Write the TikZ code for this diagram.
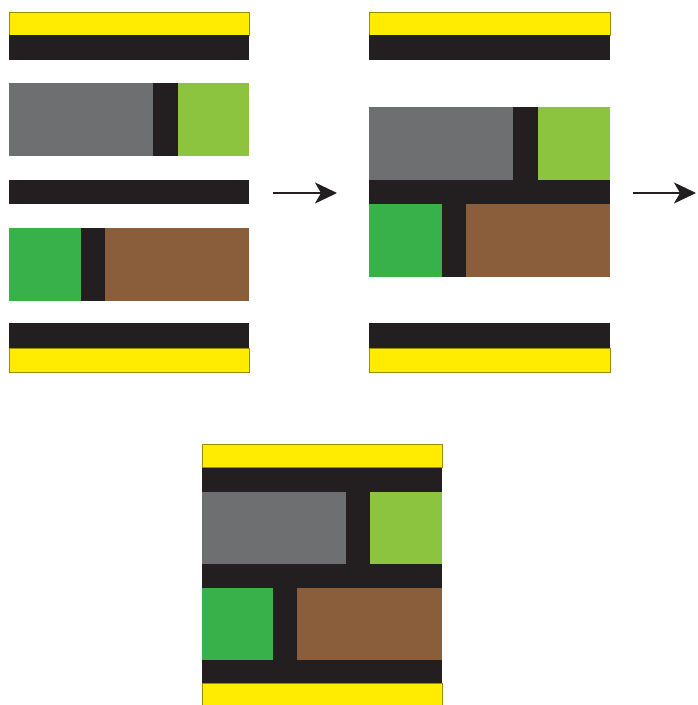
\documentclass[tikz,border=0pt]{standalone}
\usepackage{xcolor}
\usetikzlibrary{arrows.meta}
\definecolor{lyyellow}{HTML}{FFEC00}
\definecolor{lyblack}{HTML}{231F20}
\definecolor{lygray}{HTML}{6D6F71}
\definecolor{lylime}{HTML}{8CC43F}
\definecolor{lygreen}{HTML}{39B14A}
\definecolor{lybrown}{HTML}{8A5D3B}

\begin{document}
\begin{tikzpicture}[
            x=1pt, y=-1pt,
            yel/.style={fill=lyyellow, draw=lyyellow!60!black, line width=0.4pt},
            blk/.style={fill=lyblack},
            gry/.style={fill=lygray},
            lim/.style={fill=lylime},
            grn/.style={fill=lygreen},
            brn/.style={fill=lybrown},
            arrow/.style={-{Stealth[length=22pt, width=21pt, inset=6pt]}, line width=2pt, lyblack}
        ]
            \useasboundingbox (0,0) rectangle (698,705);

            % Left: separate layers
            \fill[yel] (9,12) rectangle (249,35);
            \fill[blk] (9,35) rectangle (249,60);
            \fill[gry] (9,83) rectangle (153,156);
            \fill[blk] (153,83) rectangle (178,156);
            \fill[lim] (178,83) rectangle (249,156);
            \fill[blk] (9,180) rectangle (249,204);
            \fill[grn] (9,228) rectangle (81,301);
            \fill[blk] (81,228) rectangle (105,301);
            \fill[brn] (105,228) rectangle (249,301);
            \fill[blk] (9,323) rectangle (249,348);
            \fill[yel] (9,348) rectangle (249,372);

            % Middle: inner layers joined
            \fill[yel] (369,12) rectangle (610,35);
            \fill[blk] (369,35) rectangle (610,60);
            \fill[blk] (369,107) rectangle (610,277);
            \fill[gry] (369,107) rectangle (513,180);
            \fill[lim] (538,107) rectangle (610,180);
            \fill[grn] (369,204) rectangle (442,277);
            \fill[brn] (466,204) rectangle (610,277);
            \fill[blk] (369,323) rectangle (610,348);
            \fill[yel] (369,348) rectangle (610,372);

            % Bottom: full stack
            \fill[blk] (202,467) rectangle (442,683);
            \fill[yel] (202,444) rectangle (442,467);
            \fill[gry] (202,492) rectangle (346,564);
            \fill[lim] (370,492) rectangle (442,564);
            \fill[grn] (202,588) rectangle (273,660);
            \fill[brn] (297,588) rectangle (442,660);
            \fill[yel] (202,683) rectangle (442,708);

            % Arrows
            \coordinate (a0) at (273,193);
            \coordinate (a1) at (337,193);
            \coordinate (b0) at (633,193);
            \coordinate (b1) at (696,193);
            \draw[arrow] (a0) -- (a1);
            \draw[arrow] (b0) -- (b1);
\end{tikzpicture}
\end{document}
